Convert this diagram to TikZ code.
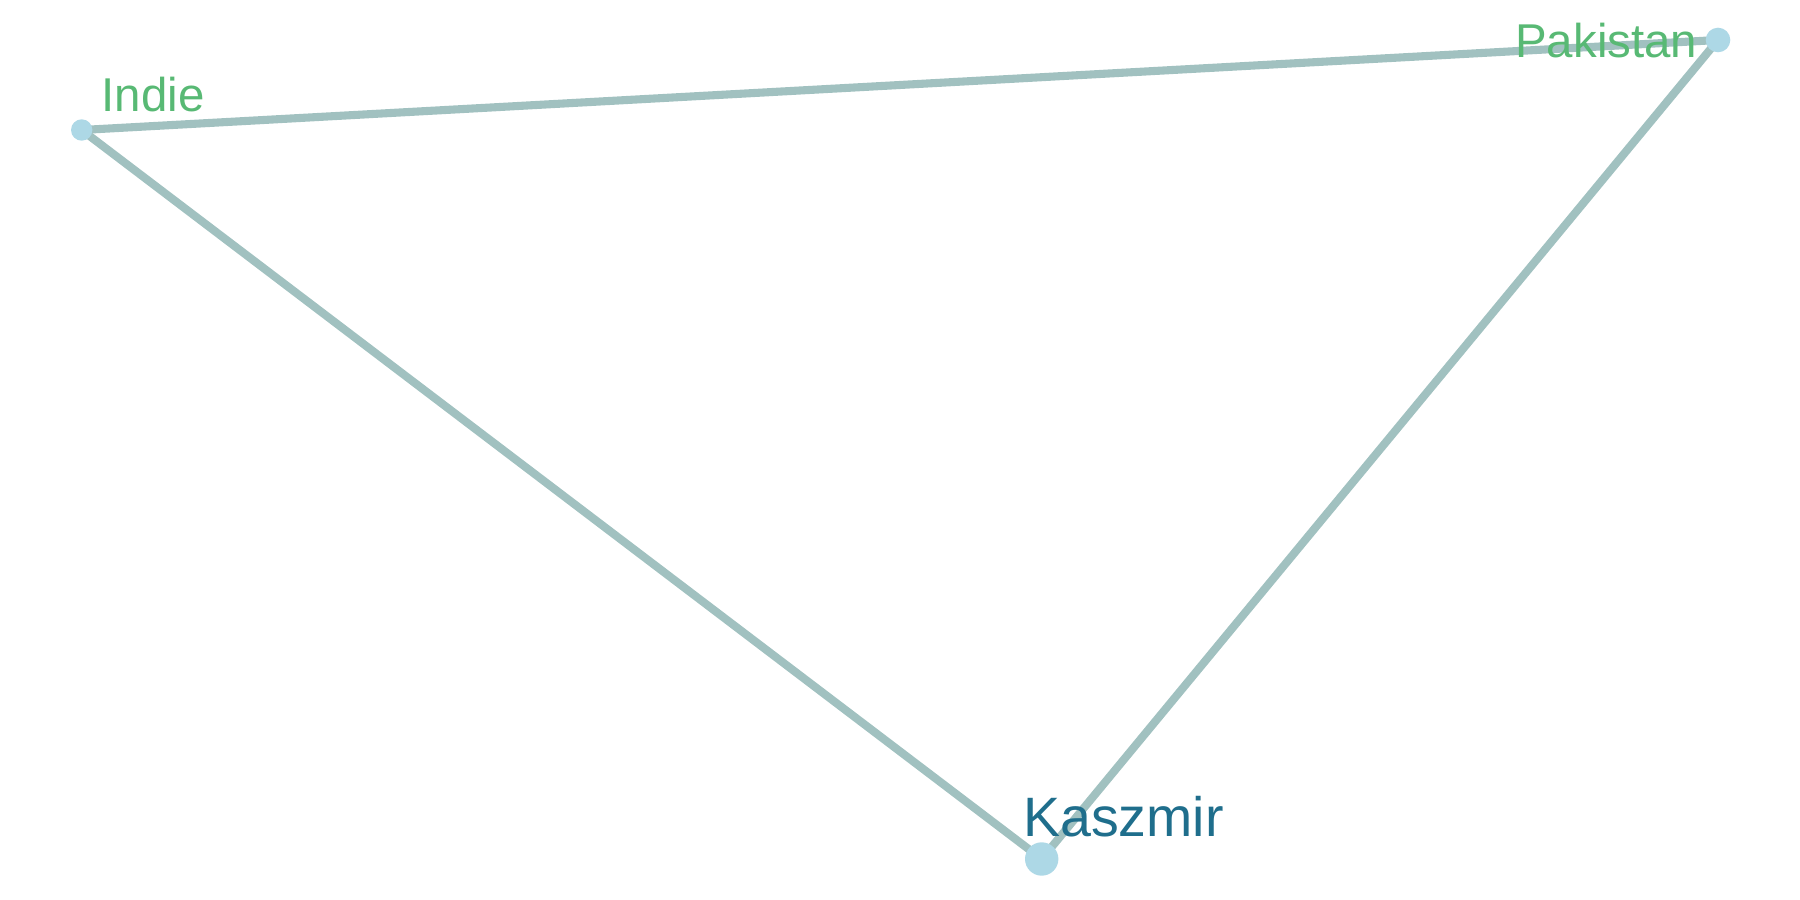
\documentclass[tikz,border=0pt]{standalone}
\usepackage{fontspec}
\setmainfont{Liberation Sans}
\usetikzlibrary{positioning, calc}
\definecolor{edgegrey}{RGB}{161,193,192}
\definecolor{nodeblue}{RGB}{173,216,230}
\definecolor{labelgreen}{RGB}{88,185,116}
\definecolor{labelteal}{RGB}{31,110,140}
\tikzset{
  cnode/.style={circle, fill=nodeblue, draw=none, inner sep=0pt},
  cedge/.style={draw=edgegrey, line width=2.3pt},
  clabel/.style={inner sep=0pt, text=labelgreen, font=\fontsize{13.5}{15}\selectfont},
  clabelmain/.style={inner sep=0pt, text=labelteal, font=\fontsize{15.8}{18}\selectfont}
}
\begin{document}
\begin{tikzpicture}
  \useasboundingbox (0,0) rectangle (18,9);
  \coordinate (indie) at (0.817,7.70);
  \coordinate (pakistan) at (17.18,8.60);
  \coordinate (kaszmir) at (10.417,0.41);
  % edges first, nodes on top
  \draw[cedge] (indie) -- (pakistan);
  \draw[cedge] (indie) -- (kaszmir);
  \draw[cedge] (pakistan) -- (kaszmir);
  \node[cnode, minimum size=0.214cm] (indien) at (indie) {};
  \node[cnode, minimum size=0.246cm] (pakistann) at (pakistan) {};
  \node[cnode, minimum size=0.334cm] (kaszmirn) at (kaszmir) {};
  \node[clabel, anchor=base west] (indielbl) at (1.01,7.883) {Indie};
  \node[clabel, anchor=base east] (pakistanlbl) at (16.98,8.427) {Pakistan};
  \node[clabelmain, anchor=base west] (kaszmirlbl) at (10.225,0.633) {Kaszmir};
\end{tikzpicture}
\end{document}
